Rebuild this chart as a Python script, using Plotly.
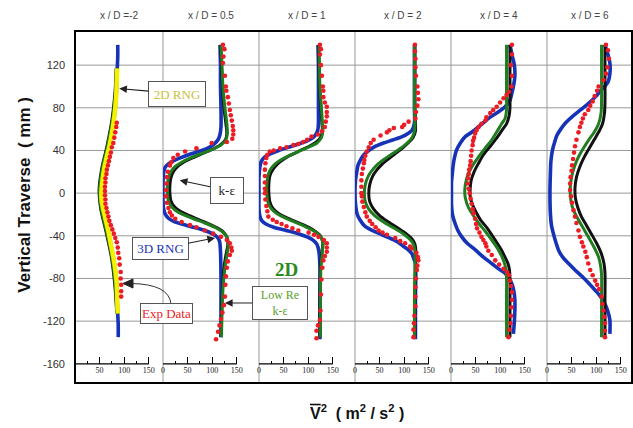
import plotly.graph_objects as go

# ---------------------------------------------------------------
# Vertical profiles of V'^2 (m^2/s^2) against vertical traverse (mm)
# at six streamwise stations.  Each profile is a list of (y_mm, v2).
# ---------------------------------------------------------------
STATIONS = ["x / D =-2", "x / D = 0.5", "x / D = 1", "x / D = 2", "x / D = 4", "x / D = 6"]

Y_TICKS = [-160, -120, -80, -40, 0, 40, 80, 120]
GRID_Y = [-120, -80, -40, 0, 40, 80, 120]
V_TICKS = [0, 50, 100, 150]
V_MINOR = [25, 75, 125]

# --- x/D = -2 ---
P1_RNG2D = [(117, 86), (105, 85), (92, 84), (80, 82), (68, 79), (56, 75), (44, 70), (33, 64), (22, 59),
            (12, 56), (3, 54), (-6, 54), (-14, 57), (-24, 62), (-36, 68), (-48, 73), (-60, 78), (-72, 82),
            (-86, 85), (-100, 86), (-113, 87)]
P1_RNG3D = [(139, 87), (128, 87), (117, 86), (105, 85), (92, 84), (80, 82), (68, 79), (56, 75), (44, 70),
            (33, 64), (22, 59), (12, 56), (3, 54), (-6, 54), (-14, 57), (-24, 62), (-36, 68), (-48, 73),
            (-60, 78), (-72, 82), (-86, 85), (-100, 86), (-113, 87), (-124, 88), (-135, 88)]
P1_LOWRE = [(117, 84), (92, 82), (68, 76), (44, 66), (22, 55), (3, 50), (-14, 53), (-36, 64), (-60, 75),
            (-86, 82), (-113, 85)]
P1_KE = [(117, 84), (92, 81), (68, 75), (44, 65), (22, 54), (3, 49), (-14, 52), (-36, 63), (-60, 74),
         (-86, 81), (-113, 85)]
P1_EXP = [(66, 85), (62, 84), (57, 82), (52, 80), (47, 78), (43, 75), (38, 73), (34, 71), (30, 69), (26, 67),
          (22, 65), (18, 64), (14, 62), (10, 62), (6, 61), (2, 61), (-2, 61), (-6, 62), (-10, 62), (-14, 64),
          (-18, 66), (-22, 68), (-26, 70), (-30, 73), (-34, 76), (-38, 79), (-42, 82), (-46, 85), (-51, 87),
          (-56, 88), (-61, 90), (-67, 91), (-74, 93), (-80, 93), (-86, 94), (-92, 94), (-97, 94)]

# --- x/D = 0.5 ---
P2_RNG3D = [(139, 116), (120, 117), (100, 117), (80, 118), (62, 118), (55, 116), (50, 112), (46, 104),
            (42, 90), (39, 72), (36, 52), (33, 35), (30, 20), (27, 10), (24, 4), (18, 1), (8, 0), (-5, 0),
            (-14, 1), (-19, 4), (-23, 10), (-26, 20), (-29, 38), (-32, 62), (-35, 85), (-38, 100),
            (-41, 110), (-45, 115), (-55, 117), (-80, 118), (-110, 118), (-135, 118)]
P2_LOWRE = [(139, 118), (120, 120), (100, 122), (80, 126), (65, 130), (56, 131), (50, 128), (45, 118),
            (41, 100), (37, 78), (33, 56), (29, 38), (25, 25), (20, 16), (14, 11), (7, 9), (0, 9), (-7, 11),
            (-12, 16), (-16, 25), (-20, 40), (-24, 62), (-28, 85), (-32, 105), (-36, 120), (-41, 130),
            (-48, 133), (-58, 130), (-70, 126), (-90, 122), (-115, 120), (-135, 119)]
P2_KE = [(139, 117), (120, 119), (100, 121), (80, 124), (65, 128), (56, 130), (50, 127), (45, 116),
         (41, 100), (37, 80), (33, 60), (29, 42), (25, 30), (20, 21), (14, 16), (7, 14), (0, 14), (-7, 16),
         (-12, 22), (-16, 32), (-20, 48), (-24, 68), (-28, 90), (-32, 108), (-36, 122), (-41, 130),
         (-48, 132), (-58, 128), (-70, 124), (-90, 121), (-115, 119), (-135, 118)]
P2_EXP = [(139, 122), (135, 125), (128, 123), (122, 122), (110, 126), (100, 128), (96, 129), (90, 132),
          (84, 134), (78, 136), (73, 138), (68, 140), (63, 142), (59, 143), (55, 143), (51, 141), (48, 130),
          (47, 99), (42, 68), (39, 45), (36, 30), (33, 21), (29, 17), (26, 14), (20, 10),
          (15, 8), (9, 7), (3, 6), (-3, 6), (-9, 8), (-14, 11), (-18, 14), (-21, 18), (-24, 25), (-27, 38),
          (-30, 55), (-32, 68), (-35, 85), (-38, 102), (-41, 118), (-44, 130), (-47, 136), (-51, 139),
          (-54, 140), (-58, 136), (-64, 132), (-70, 130), (-78, 128), (-86, 127), (-97, 126), (-105, 124),
          (-112, 121), (-118, 118), (-124, 115), (-130, 112), (-137, 108)]

# --- x/D = 1 ---
P3_RNG3D = [(139, 120), (120, 121), (100, 121), (80, 121), (66, 121), (60, 120), (56, 117), (52, 110),
            (49, 98), (46, 80), (43, 60), (40, 40), (37, 24), (34, 12), (30, 5), (25, 2), (15, 0), (0, 0),
            (-15, 0), (-22, 2), (-26, 6), (-29, 14), (-32, 30), (-35, 55), (-38, 80), (-41, 98),
            (-44, 110), (-48, 118), (-55, 122), (-70, 124), (-100, 124), (-137, 124)]
P3_LOWRE = [(139, 122), (120, 123), (100, 124), (80, 127), (66, 129), (58, 130), (52, 127), (47, 118),
            (43, 100), (39, 80), (35, 60), (31, 44), (27, 32), (22, 23), (16, 18), (8, 16), (0, 16),
            (-8, 18), (-14, 24), (-19, 36), (-23, 52), (-27, 72), (-31, 92), (-35, 110), (-40, 124),
            (-46, 130), (-55, 129), (-70, 126), (-100, 125), (-135, 125)]
P3_KE = [(139, 121), (120, 122), (100, 123), (80, 126), (66, 128), (58, 129), (52, 125), (47, 114),
         (43, 98), (39, 80), (35, 62), (31, 48), (27, 37), (22, 28), (16, 22), (8, 20), (0, 20), (-8, 22),
         (-14, 28), (-19, 40), (-23, 56), (-27, 76), (-31, 96), (-35, 112), (-40, 125), (-46, 130),
         (-55, 128), (-70, 125), (-100, 124), (-135, 124)]
P3_EXP = [(139, 124), (135, 126), (130, 124), (120, 126), (110, 128), (100, 130), (96, 131), (90, 131),
          (85, 134), (81, 138), (76, 138), (72, 138), (67, 136), (62, 134), (58, 128), (55, 120), (53, 107),
          (50, 98), (48, 90), (46, 80), (45, 70), (43, 56), (42, 43), (40, 30), (39, 22), (36, 17),
          (33, 15), (28, 13), (22, 12), (16, 12), (10, 12), (4, 12), (0, 12), (-6, 13), (-12, 15),
          (-17, 17), (-22, 19), (-25, 28), (-27, 36), (-29, 46), (-31, 56), (-33, 68), (-35, 80),
          (-37, 101), (-39, 112), (-41, 121), (-44, 132), (-47, 138), (-51, 138), (-55, 138), (-59, 134),
          (-63, 131), (-70, 129), (-81, 127), (-95, 126), (-110, 125), (-119, 124), (-124, 120),
          (-129, 117), (-136, 117)]

# --- x/D = 2 ---
P4_RNG3D = [(139, 121), (110, 121), (80, 121), (66, 121), (59, 116), (56, 108), (53, 96), (50, 78),
            (47, 58), (44, 42), (40, 28), (36, 18), (31, 11), (26, 6), (21, 4), (12, 1), (0, 0), (-10, 1),
            (-19, 4), (-25, 10), (-31, 20), (-35, 35), (-39, 55), (-43, 75), (-46, 88), (-49, 96),
            (-53, 108), (-57, 116), (-62, 120), (-66, 123), (-100, 123), (-137, 123)]
P4_LOWRE = [(139, 121), (110, 121), (80, 121), (66, 122), (58, 121), (52, 116), (47, 106), (42, 93),
            (37, 76), (32, 60), (27, 46), (22, 36), (16, 27), (8, 21), (0, 19), (-8, 21), (-15, 28),
            (-21, 40), (-27, 58), (-33, 80), (-38, 98), (-43, 111), (-48, 119), (-55, 122), (-70, 122),
            (-100, 121), (-135, 121)]
P4_KE = [(139, 122), (110, 122), (80, 122), (66, 123), (58, 123), (52, 118), (47, 108), (42, 96),
         (37, 82), (32, 68), (27, 55), (22, 45), (16, 36), (8, 30), (0, 28), (-8, 30), (-15, 38),
         (-21, 50), (-27, 68), (-33, 88), (-38, 104), (-43, 116), (-48, 122), (-55, 124), (-70, 123),
         (-100, 122), (-135, 122)]
P4_EXP = [(139, 122), (133, 122), (126, 123), (118, 123), (110, 124), (100, 127), (94, 128), (88, 129),
          (82, 127), (76, 124), (70, 123), (67, 109), (64, 100), (62, 96), (61, 79), (59, 70), (57, 65),
          (54, 52), (50, 38), (47, 32), (43, 28), (39, 24), (35, 21), (31, 19), (28, 18), (23, 16),
          (18, 14), (12, 13), (6, 13), (0, 13), (-3, 14), (-8, 15), (-13, 18), (-18, 21), (-22, 24),
          (-26, 30), (-29, 35), (-32, 42), (-35, 48), (-37, 56), (-39, 65), (-42, 82), (-45, 92),
          (-47, 102), (-50, 112), (-52, 115), (-56, 125), (-60, 128), (-63, 129), (-68, 127), (-72, 126),
          (-80, 124), (-88, 123), (-97, 123), (-106, 123), (-115, 121), (-122, 120), (-128, 119),
          (-135, 119)]

# --- x/D = 4 ---
P5_RNG3D = [(139, 120), (128, 125), (120, 129), (110, 130), (100, 127), (92, 123), (87, 120), (81, 110),
            (76, 96), (71, 79), (66, 66), (62, 56), (57, 42), (53, 29), (47, 19), (40, 11), (33, 7),
            (28, 5), (20, 3), (10, 1), (0, 1), (-10, 1), (-20, 3), (-28, 8), (-35, 14), (-41, 22),
            (-47, 33), (-53, 49), (-60, 66), (-66, 83), (-71, 97), (-75, 110), (-80, 118), (-85, 124),
            (-92, 128), (-100, 130), (-110, 130), (-120, 129), (-132, 127)]
P5_LOWRE = [(139, 113), (110, 113), (90, 113), (78, 113), (70, 110), (65, 103), (58, 94), (50, 83),
            (42, 69), (34, 56), (26, 44), (18, 35), (10, 30), (3, 28), (-4, 29), (-13, 35), (-20, 44),
            (-28, 56), (-36, 70), (-44, 83), (-52, 95), (-60, 104), (-66, 109), (-72, 112), (-79, 113),
            (-100, 113), (-135, 113)]
P5_KE = [(139, 120), (110, 120), (90, 120), (80, 120), (72, 118), (65, 113), (59, 104), (51, 92),
         (44, 80), (36, 66), (28, 56), (20, 47), (12, 41), (4, 39), (-3, 39), (-10, 43), (-17, 50),
         (-25, 60), (-33, 74), (-44, 90), (-52, 101), (-60, 110), (-66, 116), (-72, 119), (-80, 120),
         (-100, 120), (-135, 120)]
P5_EXP = [(139, 124), (130, 124), (120, 122), (110, 124), (100, 123), (95, 118), (92, 113), (89, 107),
          (85, 100), (81, 93), (78, 86), (75, 80), (71, 72), (68, 70), (65, 62), (62, 56), (59, 52),
          (56, 49), (52, 47), (49, 45), (45, 44), (40, 42), (35, 41), (30, 40), (26, 39), (22, 37),
          (18, 36), (14, 35), (9, 34), (4, 36), (0, 38), (-5, 40), (-10, 42), (-15, 44), (-19, 46),
          (-24, 49), (-29, 51), (-33, 53), (-37, 58), (-41, 62), (-44, 66), (-47, 70), (-50, 72),
          (-54, 76), (-58, 83), (-63, 90), (-67, 98), (-71, 107), (-74, 114), (-77, 118), (-82, 120),
          (-87, 122), (-93, 124), (-100, 124), (-107, 123), (-115, 122), (-122, 121), (-128, 119),
          (-135, 117)]

# --- x/D = 6 ---
P6_RNG3D = [(139, 118), (130, 124), (122, 128), (112, 128), (104, 124), (97, 111), (90, 98), (84, 84),
            (78, 68), (72, 52), (66, 38), (60, 28), (54, 20), (47, 15), (40, 11), (30, 8), (20, 7), (0, 6),
            (-20, 7), (-30, 9), (-38, 13), (-46, 18), (-54, 24), (-60, 32), (-66, 44), (-72, 57),
            (-78, 71), (-84, 84), (-91, 98), (-97, 109), (-104, 118), (-111, 124), (-119, 128),
            (-132, 128)]
P6_LOWRE = [(139, 111), (110, 111), (85, 111), (75, 110), (65, 105), (57, 96), (50, 85), (42, 74),
            (34, 64), (25, 56), (15, 50), (3, 47), (-8, 49), (-16, 54), (-25, 64), (-33, 74), (-41, 84),
            (-50, 95), (-60, 105), (-68, 109), (-76, 111), (-100, 111), (-135, 111)]
P6_KE = [(139, 118), (110, 118), (85, 118), (75, 117), (65, 113), (58, 106), (50, 96), (42, 86),
         (34, 76), (25, 67), (15, 60), (5, 57), (-5, 58), (-14, 63), (-22, 70), (-30, 80), (-38, 90),
         (-47, 101), (-56, 110), (-66, 116), (-75, 118), (-100, 118), (-135, 118)]
P6_EXP = [(139, 120), (134, 124), (126, 126), (118, 123), (112, 120), (106, 115), (100, 105), (96, 102),
          (91, 97), (86, 93), (82, 88), (78, 84), (74, 77), (70, 73), (66, 70), (62, 67), (57, 64),
          (50, 60), (44, 57), (38, 55), (32, 53), (26, 51), (21, 50), (15, 48), (9, 47), (3, 47),
          (-3, 49), (-9, 51), (-16, 54), (-22, 57), (-28, 60), (-35, 64), (-41, 67), (-46, 71), (-50, 74),
          (-55, 78), (-60, 81), (-66, 84), (-72, 88), (-77, 93), (-82, 98), (-86, 102), (-90, 106),
          (-97, 111), (-104, 113), (-110, 115), (-116, 117), (-122, 118), (-129, 118), (-135, 118)]

PANELS = [
    dict(rng3d=P1_RNG3D, ke=P1_KE, lowre=P1_LOWRE, rng2d=P1_RNG2D, exp=P1_EXP),
    dict(rng3d=P2_RNG3D, ke=P2_KE, lowre=P2_LOWRE, exp=P2_EXP),
    dict(rng3d=P3_RNG3D, ke=P3_KE, lowre=P3_LOWRE, exp=P3_EXP),
    dict(rng3d=P4_RNG3D, ke=P4_KE, lowre=P4_LOWRE, exp=P4_EXP),
    dict(rng3d=P5_RNG3D, ke=P5_KE, lowre=P5_LOWRE, exp=P5_EXP),
    dict(rng3d=P6_RNG3D, ke=P6_KE, lowre=P6_LOWRE, exp=P6_EXP),
]

# ---------------- layout geometry ----------------
W, H = 633, 428
M_L, M_R, M_T, M_B = 75, 1, 31, 45
PLOT_W = W - M_L - M_R
PLOT_H = H - M_T - M_B
EDGES_PX = [75, 163, 259, 355, 451, 547, 632]     # panel boundaries (px)
V_PER_PX = 150 / 73.7                                # V^2 units per pixel
Y_RANGE = [-178, 152]

BLUE = "#1633b8"
GREEN = "#1f7d1f"
BLACK = "#111111"
YELLOW = "#f4f000"
RED = "#ec1c24"
GRID = "#9a9a9a"


def px_to_paper(px, py):
    return (px - M_L) / PLOT_W, (H - M_B - py) / PLOT_H


fig = go.Figure()


def split(pairs):
    return [p[1] for p in pairs], [p[0] for p in pairs]


for i, p in enumerate(PANELS):
    xa = "x" if i == 0 else f"x{i + 1}"
    styles = [("rng3d", BLUE, 3.6), ("ke", BLACK, 3.0), ("lowre", GREEN, 3.0), ("rng2d", YELLOW, 4.5)]
    for key, col, w in styles:
        if key in p:
            xs, ys = split(p[key])
            fig.add_trace(go.Scatter(x=xs, y=ys, xaxis=xa, yaxis="y", mode="lines",
                                     line=dict(color=col, width=w, shape="spline", smoothing=0.8),
                                     showlegend=False, hoverinfo="skip"))
    xs, ys = split(p["exp"])
    fig.add_trace(go.Scatter(x=xs, y=ys, xaxis=xa, yaxis="y", mode="markers",
                             marker=dict(color=RED, size=4.6), showlegend=False, hoverinfo="skip"))

# per-panel V^2 axes drawn as scale bars at the -160 mm level
bar_pos = (-160 - Y_RANGE[0]) / (Y_RANGE[1] - Y_RANGE[0])
layout_axes = {}
shapes = []
for i in range(6):
    d0 = (EDGES_PX[i] - M_L) / PLOT_W
    d1 = (EDGES_PX[i + 1] - M_L) / PLOT_W
    span = (EDGES_PX[i + 1] - EDGES_PX[i]) * V_PER_PX
    major = V_TICKS[1:] if i == 0 else V_TICKS   # the first panel's zero sits on the frame
    name = "xaxis" if i == 0 else f"xaxis{i + 1}"
    layout_axes[name] = dict(
        domain=[d0, d1], range=[0, span], anchor="free", position=bar_pos,
        showgrid=False, zeroline=False, showline=False,
        ticks="inside", ticklen=7, tickwidth=1, tickcolor="black",
        tickvals=major, ticktext=[str(v) for v in major],
        tickfont=dict(family="Liberation Serif", size=8, color="#222"),
        minor=dict(tickvals=V_MINOR, ticks="inside", ticklen=3, tickwidth=1, tickcolor="black",
                   showgrid=False),
        fixedrange=True,
    )
    xref = "x" if i == 0 else f"x{i + 1}"
    shapes.append(dict(type="line", xref=xref, yref="y", x0=V_TICKS[0], x1=V_TICKS[-1], y0=-160, y1=-160,
                       line=dict(color="black", width=1.2), layer="above"))

for g in GRID_Y:
    shapes.append(dict(type="line", xref="paper", yref="y", x0=0, x1=1, y0=g, y1=g,
                       line=dict(color=GRID, width=1), layer="below"))
for e in EDGES_PX[1:-1]:
    xp = (e - M_L) / PLOT_W
    shapes.append(dict(type="line", xref="paper", yref="paper", x0=xp, x1=xp, y0=0, y1=1,
                       line=dict(color=GRID, width=1), layer="below"))
shapes.append(dict(type="rect", xref="paper", yref="paper", x0=0, x1=1, y0=0, y1=1,
                   line=dict(color="black", width=2), layer="above"))

# curved leader from the "Exp Data" box up to the measured profile
c0 = px_to_paper(171, 304)
c1 = px_to_paper(169, 284)
c2 = px_to_paper(131, 283.5)
shapes.append(dict(type="path", xref="paper", yref="paper",
                   path=f"M {c0[0]},{c0[1]} Q {c1[0]},{c1[1]} {c2[0]},{c2[1]}",
                   line=dict(color="#333", width=1), layer="above"))
t0 = px_to_paper(123, 283.5)
t1 = px_to_paper(133, 279)
t2 = px_to_paper(133, 288)
shapes.append(dict(type="path", xref="paper", yref="paper",
                   path=f"M {t0[0]},{t0[1]} L {t1[0]},{t1[1]} L {t2[0]},{t2[1]} Z",
                   fillcolor="#222", line=dict(color="#222", width=1), layer="above"))

annotations = []
# station titles
for i, s in enumerate(STATIONS):
    xc = ((EDGES_PX[i] + EDGES_PX[i + 1]) / 2 - M_L) / PLOT_W
    annotations.append(dict(text=s, xref="paper", yref="paper", x=xc, y=1 + 16 / PLOT_H,
                            xanchor="center", yanchor="middle",
                            showarrow=False, font=dict(family="Liberation Sans", size=10, color="#444")))

# axis titles
annotations.append(dict(text="<b>Vertical Traverse\u00a0\u00a0( mm )</b>", xref="paper", yref="paper",
                        x=-50 / PLOT_W, y=0.535, xanchor="center", yanchor="middle",
                        textangle=-90, showarrow=False,
                        font=dict(family="Liberation Sans", size=17, color="#111")))
annotations.append(dict(text="<b><span style='text-decoration:overline'>V</span><sup>2</sup>\u00a0\u00a0( m<sup>2</sup> / s<sup>2</sup> )</b>",
                        xref="paper", yref="paper", x=(357 - M_L) / PLOT_W, y=-29 / PLOT_H,
                        xanchor="center", yanchor="middle", showarrow=False,
                        font=dict(family="Liberation Sans", size=16, color="#111")))


# model labels with arrows
def label(text, xref, x, y, ax, ay, color, size=13, w=None, h=None):
    a = dict(text=text, xref=xref, yref="y", x=x, y=y, ax=ax, ay=ay, axref="pixel", ayref="pixel",
             showarrow=True, arrowhead=2, arrowsize=1.4, arrowwidth=1.1, arrowcolor="#222",
             font=dict(family="Liberation Serif", size=size, color=color),
             bgcolor="white", borderpad=1, bordercolor="#555", borderwidth=1)
    if w:
        a["width"] = w
    if h:
        a["height"] = h
    return a


annotations.append(label("2D RNG", "x", 90, 98, 58, 5, "#c8c23a", w=54, h=22))
annotations.append(label("k-ε", "x2", 34, 12, 47, 10, "#222", w=30, h=23))
annotations.append(label("3D RNG", "x2", 106, -42, -55, 11, BLUE, w=53, h=19))
ex, ey = px_to_paper(166, 313.5)
annotations.append(dict(text="Exp Data", xref="paper", yref="paper", x=ex, y=ey,
                        xanchor="center", yanchor="middle",
                        showarrow=False, font=dict(family="Liberation Serif", size=13, color=RED),
                        bgcolor="white", borderpad=1, bordercolor="#555", borderwidth=1, width=49, height=17))
annotations.append(label("Low Re<br>k-ε", "x2", 126, -103, 55, 0, "#5aa02c", size=12, w=52, h=30))
annotations.append(dict(text="<b>2D</b>", xref="x3", yref="y", x=55, y=-72, showarrow=False,
                        font=dict(family="Liberation Serif", size=19, color="#2a8a1a")))

fig.update_layout(
    width=W, height=H,
    margin=dict(l=M_L, r=M_R, t=M_T, b=M_B),
    paper_bgcolor="white", plot_bgcolor="white",
    yaxis=dict(range=Y_RANGE, tickvals=Y_TICKS, ticktext=[str(v) for v in Y_TICKS],
               showgrid=False, zeroline=False, showline=False,
               ticks="", ticklabelstandoff=9, anchor="x",
               tickfont=dict(family="Liberation Sans", size=11, color="#333"), fixedrange=True),
    shapes=shapes, annotations=annotations, showlegend=False,
    **layout_axes,
)

fig.write_html("out.html")
